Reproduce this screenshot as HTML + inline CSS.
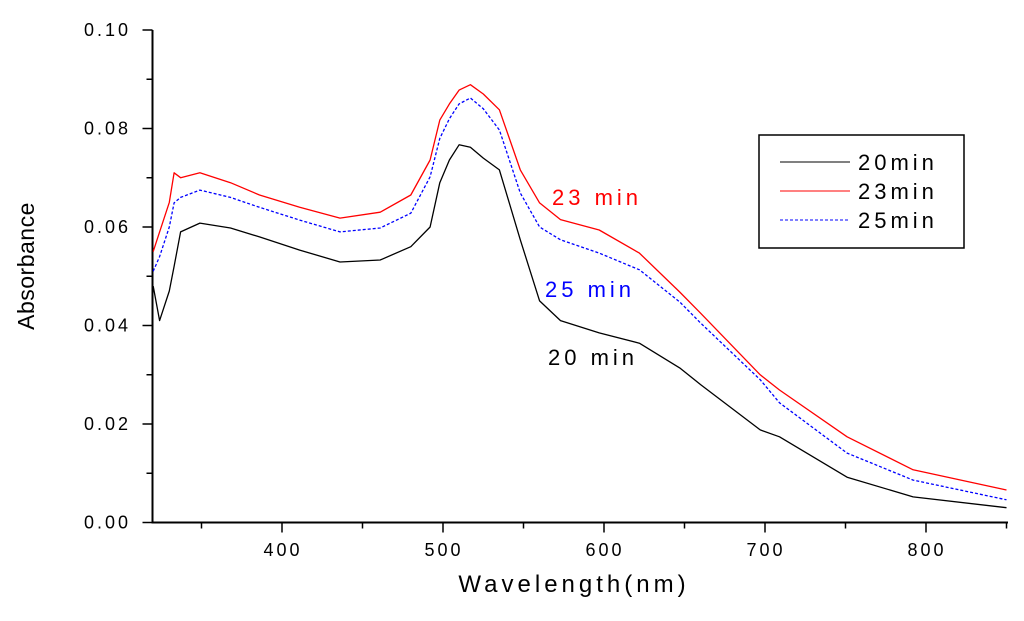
<!DOCTYPE html>
<html><head><meta charset="utf-8"><style>
html,body{margin:0;padding:0;background:#fff;}
svg text{font-family:"Liberation Sans",sans-serif;}
</style></head><body>
<svg id="chart" width="1024" height="616" viewBox="0 0 1024 616" xmlns="http://www.w3.org/2000/svg">
<g id="axes"></g>
<g id="series"></g>
<text x="552" y="205" fill="#ff0000" font-size="22" letter-spacing="4">23 min</text>
<text x="545" y="297" fill="#0000ff" font-size="22" letter-spacing="4">25 min</text>
<text x="548" y="365" fill="#000" font-size="22" letter-spacing="4">20 min</text>
<text x="574" y="592" text-anchor="middle" font-size="24" letter-spacing="4">Wavelength(nm)</text>
<text transform="translate(34,266) rotate(-90)" text-anchor="middle" font-size="23" letter-spacing="0.5">Absorbance</text>
<g>
<rect x="759" y="135" width="205" height="113" fill="#fff" stroke="#000" stroke-width="1.5"/>
<line x1="780" y1="162" x2="850" y2="162" stroke="#000" stroke-width="1"/>
<text x="858" y="170" font-size="22" letter-spacing="4">20min</text>
<line x1="780" y1="191" x2="850" y2="191" stroke="#ff0000" stroke-width="1"/>
<text x="858" y="199" font-size="22" letter-spacing="4">23min</text>
<line x1="780" y1="220" x2="850" y2="220" stroke="#0000ff" stroke-width="1" stroke-dasharray="3,2"/>
<text x="858" y="228" font-size="22" letter-spacing="4">25min</text>
</g>
</svg>
<script>
const wavelengths=[320,324,330,333,337,349,368,386,411,436,461,480,492,498,504,510,517,525,535,548,560,573,597,622,647,660,697,709,751,792,850];
const abs20=[0.048,0.041,0.047,0.052,0.059,0.0608,0.0598,0.058,0.0553,0.0529,0.0533,0.056,0.060,0.069,0.0736,0.0767,0.0762,0.074,0.0716,0.0574,0.045,0.041,0.0385,0.0364,0.0314,0.028,0.0188,0.0174,0.0092,0.0052,0.003];
const abs23=[0.055,0.059,0.065,0.071,0.070,0.071,0.069,0.0665,0.064,0.0618,0.063,0.0665,0.0736,0.0817,0.085,0.0878,0.0889,0.087,0.0838,0.0716,0.0649,0.0615,0.0594,0.0547,0.0468,0.0425,0.030,0.0269,0.0174,0.0107,0.0066];
const abs25=[0.051,0.054,0.060,0.0649,0.066,0.0675,0.066,0.064,0.0614,0.059,0.0598,0.0628,0.0702,0.078,0.082,0.085,0.0862,0.084,0.0797,0.0669,0.060,0.0574,0.0547,0.0513,0.0448,0.0405,0.029,0.0243,0.0141,0.0086,0.0046];
const xTicks=[400,500,600,700,800];
const yTicks=[0.00,0.02,0.04,0.06,0.08,0.10];
const NS='http://www.w3.org/2000/svg';
const X0=152.5,X1=1008,Y0=522.5,Y1=30;
function xs(v){return 282+(v-400)*1.61;}
function ys(v){return Y0-(v/0.10)*(Y0-Y1);}
function mk(t,a,p){const e=document.createElementNS(NS,t);for(const k in a)e.setAttribute(k,a[k]);p.appendChild(e);return e;}
const ax=document.getElementById('axes');
let l=mk('line',{x1:X0,y1:Y1,x2:X0,y2:Y0+1,stroke:'#000','stroke-width':2},ax);


l=mk('line',{x1:X0-1,y1:Y0,x2:X1,y2:Y0,stroke:'#000','stroke-width':2},ax);


for(let v=350;v<=850;v+=50){const x=xs(v);const maj=v%100===0;
 const t=mk('line',{x1:x,y1:Y0,x2:x,y2:Y0+(maj?10:6),stroke:'#000','stroke-width':1.5},ax);
 
 }
xTicks.forEach(v=>{const t=mk('text',{x:xs(v)+1,y:556,'text-anchor':'middle','font-size':18,'letter-spacing':3},ax);t.textContent=v;
 
 });
for(let i=0;i<=10;i++){const v=i*0.01;const y=ys(v);const maj=i%2===0;
 const t=mk('line',{x1:X0,y1:y,x2:X0-(maj?10:6),y2:y,stroke:'#000','stroke-width':1.5},ax);
 
 }
yTicks.forEach(v=>{const t=mk('text',{x:131,y:ys(v)+6,'text-anchor':'end','font-size':18,'letter-spacing':3},ax);t.textContent=v.toFixed(2);
 
 });
const sg=document.getElementById('series');
function draw(vals,col,dash,name){
 const pts=wavelengths.map((w,i)=>xs(w).toFixed(1)+','+ys(vals[i]).toFixed(1)).join(' ');
 const p=mk('polyline',{points:pts,fill:'none',stroke:col,'stroke-width':1.3,'stroke-linejoin':'round'},sg);
 if(dash)p.setAttribute('stroke-dasharray',dash);
 
 }
draw(abs20,'#000',null,'series-20min');
draw(abs23,'#ff0000',null,'series-23min');
draw(abs25,'#0000ff','3,2','series-25min');
</script>
</body></html>
